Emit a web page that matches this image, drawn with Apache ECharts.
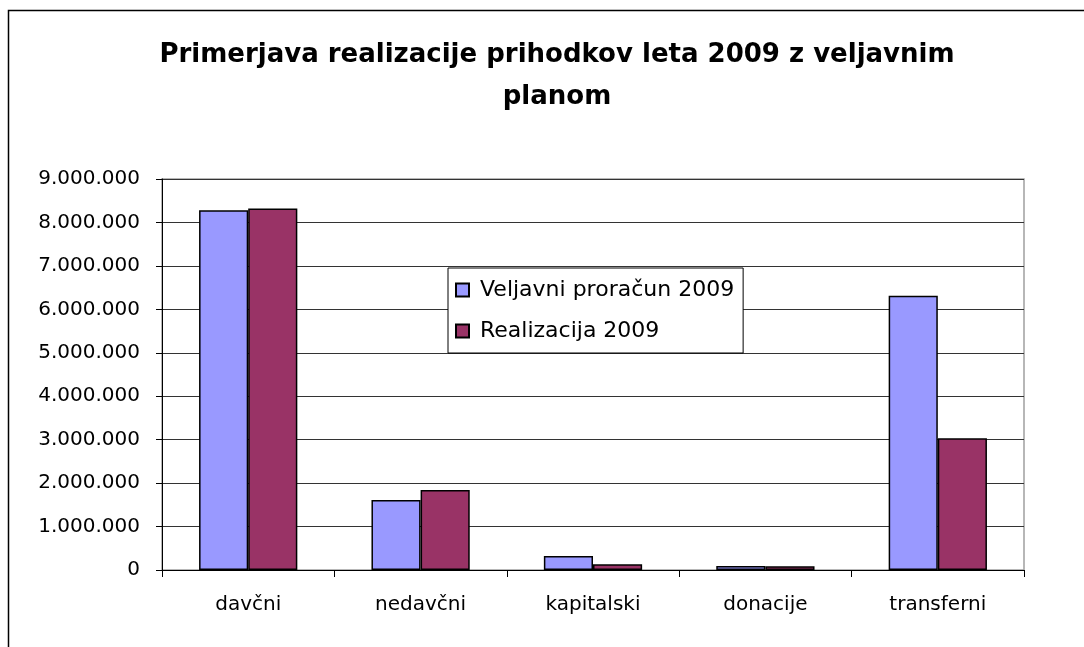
<!DOCTYPE html>
<html>
<head>
<meta charset="utf-8">
<script src="https://cdn.jsdelivr.net/npm/echarts@6/dist/echarts.min.js"></script>
<style>
  html, body { margin: 0; padding: 0; background: #fff; }
  #chart { width: 1084px; height: 647px; }
</style>
</head>
<body>
<div id="chart"></div>
<script>
// podatki
const categories = ['davčni', 'nedavčni', 'kapitalski', 'donacije', 'transferni'];
const veljavniProracun = [8280000, 1610000, 320000, 90000, 6310000];
const realizacija = [8320000, 1840000, 130000, 85000, 3030000];
const seriesNames = ['Veljavni proračun 2009', 'Realizacija 2009'];

const chart = echarts.init(document.getElementById('chart'));

// 9000000 -> 9.000.000
const fmt = v => String(v).replace(/\B(?=(\d{3})+(?!\d))/g, '.');

const labelFont = 'DejaVu Sans, Verdana, sans-serif';

const option = {
    backgroundColor: '#ffffff',
    animation: false,
    title: {
        text: 'Primerjava realizacije prihodkov leta 2009 z veljavnim\nplanom',
        left: 552,
        top: 29,
        textAlign: 'center',
        textStyle: {
            fontFamily: labelFont,
            fontWeight: 'bold',
            fontSize: 26,
            lineHeight: 42,
            color: '#000'
        }
    },
    legend: {
        data: seriesNames,
        orient: 'vertical',
        left: 448,
        top: 268,
        padding: [11, 9, 11, 7],
        itemGap: 19,
        itemWidth: 13,
        itemHeight: 13,
        icon: 'rect',
        backgroundColor: '#fff',
        borderColor: '#000',
        borderWidth: 1,
        textStyle: { fontFamily: labelFont, fontSize: 22, color: '#000', padding: [0, 0, 0, 6] }
    },
    grid: {
        left: 162,
        right: 60,
        top: 179,
        bottom: 77,
        show: true,
        borderColor: '#a0a0a0',
        borderWidth: 1.5
    },
    xAxis: {
        type: 'category',
        data: categories,
        axisLine: { lineStyle: { color: '#000', width: 1 } },
        axisTick: { show: true, length: 7, lineStyle: { color: '#000' } },
        axisLabel: { fontFamily: labelFont, fontSize: 20, color: '#000', margin: 25 }
    },
    yAxis: {
        type: 'value',
        min: 0,
        max: 9000000,
        interval: 1000000,
        axisLine: { show: true, lineStyle: { color: '#000', width: 1 } },
        axisTick: { show: true, length: 6, lineStyle: { color: '#000' } },
        axisLabel: { fontFamily: labelFont, fontSize: 20, color: '#000', margin: 22, formatter: fmt },
        splitLine: { lineStyle: { color: '#333', width: 1 } }
    },
    series: [
        {
            name: seriesNames[0],
            type: 'bar',
            data: veljavniProracun,
            barGap: '0%',
            barCategoryGap: '43%',
            itemStyle: { color: '#9999ff', borderColor: '#000', borderWidth: 1.5 }
        },
        {
            name: seriesNames[1],
            type: 'bar',
            data: realizacija,
            itemStyle: { color: '#993366', borderColor: '#000', borderWidth: 1.5 }
        }
    ],
    graphic: [
        {
            type: 'rect',
            shape: { x: 8.5, y: 10.5, width: 1200, height: 1000 },
            style: { fill: 'none', stroke: '#000', lineWidth: 1.5 },
            silent: true
        }
    ]
};

chart.setOption(option);
</script>
</body>
</html>
